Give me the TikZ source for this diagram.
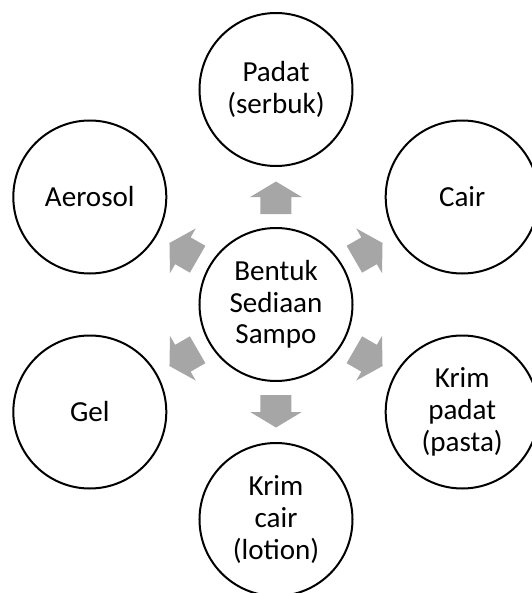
\documentclass[tikz,border=0pt]{standalone}
\usepackage{fontspec}
\setmainfont{Carlito}
\definecolor{abu}{HTML}{A6A6A6}
\tikzset{
  bulat/.style={circle, draw=black, line width=1.5pt, minimum size=114.75pt, inner sep=0pt,
    align=center, font=\fontsize{21.8pt}{23.8pt}\selectfont},
  panah/.style={fill=abu, draw=none}
}

\begin{document}
\begin{tikzpicture}[x=0.75pt, y=0.75pt]
	\useasboundingbox (-276,-288.5) rectangle (256,304.5);
	\clip (-276,-288.5) rectangle (256,304.5);
	\node[bulat] (pusat) at (0,0) {Bentuk\\Sediaan\\Sampo};
	\node[bulat] (padat) at (90:215) {Padat\\(serbuk)};
	\node[bulat] (cair) at (30:215) {Cair};
	\node[bulat] (krimpadat) at (-30:215) {Krim\\padat\\(pasta)};
	\node[bulat] (krimcair) at (-90:215) {Krim\\cair\\(lotion)};
	\node[bulat] (gel) at (-150:215) {Gel};
	\node[bulat] (aerosol) at (150:215) {Aerosol};
	% panah blok dari pusat ke luar
	\foreach \a in {90,30,-30,-90,-150,150}
		\fill[panah, shift={(pusat)}, rotate=\a] (90.5,-15.5) -- (107.5,-15.5) -- (107.5,-25.8)
			-- (123,0) -- (107.5,25.8) -- (107.5,15.5) -- (90.5,15.5) -- cycle;
\end{tikzpicture}
\end{document}
